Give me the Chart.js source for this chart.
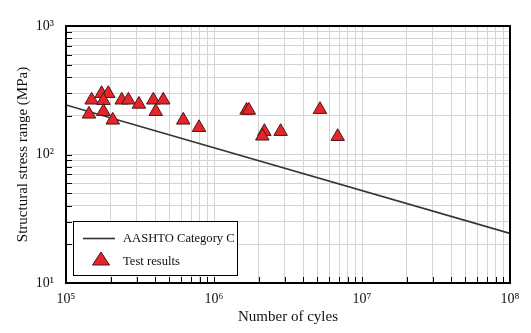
<!DOCTYPE html>
<html>
<head>
<meta charset="utf-8">
<script src="https://cdn.jsdelivr.net/npm/chart.js@4"></script>
<style>
  body { margin: 0; background: #fff; }
  #wrap { width: 531px; height: 333px; }
</style>
</head>
<body>
<div id="wrap"><canvas id="fatigueChart" width="531" height="333"></canvas></div>
<script>
// Test results (cycles, stress range in MPa)
const testCycles = [1.49e5, 1.74e5, 1.93e5, 1.79e5, 2.38e5, 2.64e5, 3.11e5, 3.89e5, 4.54e5,
    1.43e5, 1.79e5, 2.07e5, 4.04e5, 6.2e5, 7.92e5, 1.66e6, 1.72e6, 2.19e6, 2.12e6, 2.82e6,
    5.2e6, 6.85e6];
const testStress = [265, 298, 298, 263, 265, 265, 246, 265, 265,
    206, 216, 185, 216, 185, 162, 221, 221, 151, 139, 151,
    224, 138];

// AASHTO Category C design curve end points
const aashtoCycles = [1e5, 1e8];
const aashtoStress = [243, 24.3];

// Axis decades
const xDecades = [5, 6, 7, 8];
const yDecades = [1, 2, 3];

const superscripts = { 0: '\u2070', 1: '\u00b9', 2: '\u00b2', 3: '\u00b3', 4: '\u2074',
    5: '\u2075', 6: '\u2076', 7: '\u2077', 8: '\u2078', 9: '\u2079' };

const serif = "'Liberation Serif', 'Times New Roman', serif";

function logTicks(decades) {
    const ticks = [];
    for (let i = 0; i < decades.length; i++) {
        const base = Math.pow(10, decades[i]);
        if (i === decades.length - 1) {
            ticks.push({ value: base });
        } else {
            for (let m = 1; m <= 9; m++) ticks.push({ value: m * base });
        }
    }
    return ticks;
}

function powLabel(value) {
    const e = Math.log10(value);
    if (Math.abs(e - Math.round(e)) > 1e-9) return '';
    return '10' + superscripts[Math.round(e)];
}

// Frame, inward ticks and legend box
const framePlugin = {
    id: 'frame',
    afterDatasetsDraw(chart) {
        const ctx = chart.ctx;
        const a = chart.chartArea;
        const xs = chart.scales.x;
        const ys = chart.scales.y;
        ctx.save();
        ctx.strokeStyle = '#000';
        ctx.lineWidth = 1;
        // inward ticks on left and bottom
        ctx.beginPath();
        ys.ticks.forEach(t => {
            const y = Math.round(ys.getPixelForValue(t.value)) + 0.5;
            ctx.moveTo(a.left, y);
            ctx.lineTo(a.left + 6, y);
        });
        xs.ticks.forEach(t => {
            const x = Math.round(xs.getPixelForValue(t.value)) + 0.5;
            ctx.moveTo(x, a.bottom);
            ctx.lineTo(x, a.bottom - 6);
        });
        ctx.stroke();
        // legend box
        const bx = 73, by = 221, bw = 164, bh = 54;
        ctx.fillStyle = '#fff';
        ctx.fillRect(bx, by, bw, bh);
        ctx.strokeRect(bx + 0.5, by + 0.5, bw, bh);
        ctx.strokeStyle = '#333';
        ctx.lineWidth = 1.6;
        ctx.beginPath();
        ctx.moveTo(83, 238.5);
        ctx.lineTo(115, 238.5);
        ctx.stroke();
        ctx.beginPath();
        ctx.moveTo(101, 252);
        ctx.lineTo(109.5, 265);
        ctx.lineTo(92.5, 265);
        ctx.closePath();
        ctx.fillStyle = '#e5252a';
        ctx.fill();
        ctx.strokeStyle = '#4a1616';
        ctx.lineWidth = 1;
        ctx.stroke();
        ctx.fillStyle = '#111';
        ctx.font = '12.6px ' + serif;
        ctx.textBaseline = 'middle';
        ctx.fillText('AASHTO Category C', 123, 239);
        ctx.fillText('Test results', 123, 262);
        // outer frame
        ctx.strokeStyle = '#000';
        ctx.lineWidth = 2;
        ctx.strokeRect(a.left, a.top, a.right - a.left, a.bottom - a.top);
        ctx.restore();
    }
};

const ctx = document.getElementById('fatigueChart');
new Chart(ctx, {
    type: 'scatter',
    data: {
        datasets: [{
            label: 'Test results',
            data: testCycles.map((c, i) => ({ x: c, y: testStress[i] })),
            pointStyle: 'triangle',
            pointRadius: 7.8,
            backgroundColor: '#e5252a',
            borderColor: '#4a1616',
            borderWidth: 1,
            order: 1
        }, {
            label: 'AASHTO Category C',
            type: 'line',
            data: aashtoCycles.map((c, i) => ({ x: c, y: aashtoStress[i] })),
            borderColor: '#333',
            borderWidth: 1.6,
            pointRadius: 0,
            fill: false,
            order: 2
        }]
    },
    options: {
        responsive: false,
        animation: false,
        layout: { padding: { top: 26, right: 21, left: 0, bottom: 0 } },
        plugins: {
            legend: { display: false },
            tooltip: { enabled: false }
        },
        scales: {
            x: {
                type: 'logarithmic',
                min: 1e5,
                max: 1e8,
                afterBuildTicks: scale => { scale.ticks = logTicks(xDecades); },
                afterFit: scale => { scale.height = 50; },
                grid: { color: '#d4d4d4', lineWidth: 1, drawTicks: false },
                border: { display: false },
                ticks: {
                    autoSkip: false,
                    maxRotation: 0,
                    padding: 8,
                    color: '#111',
                    font: { family: serif, size: 14 },
                    callback: v => powLabel(v)
                },
                title: {
                    display: true,
                    text: 'Number of cyles',
                    color: '#111',
                    font: { family: serif, size: 15 },
                    padding: { top: 0, bottom: 7 }
                }
            },
            y: {
                type: 'logarithmic',
                min: 10,
                max: 1000,
                afterBuildTicks: scale => { scale.ticks = logTicks(yDecades); },
                afterFit: scale => { scale.width = 66; },
                grid: { color: '#d4d4d4', lineWidth: 1, drawTicks: false },
                border: { display: false },
                ticks: {
                    autoSkip: false,
                    padding: 12,
                    color: '#111',
                    font: { family: serif, size: 14 },
                    callback: v => powLabel(v)
                },
                title: {
                    display: true,
                    text: 'Structural stress range (MPa)',
                    color: '#111',
                    font: { family: serif, size: 15 },
                    padding: { top: 14, bottom: 0 }
                }
            }
        }
    },
    plugins: [framePlugin]
});
</script>
</body>
</html>
